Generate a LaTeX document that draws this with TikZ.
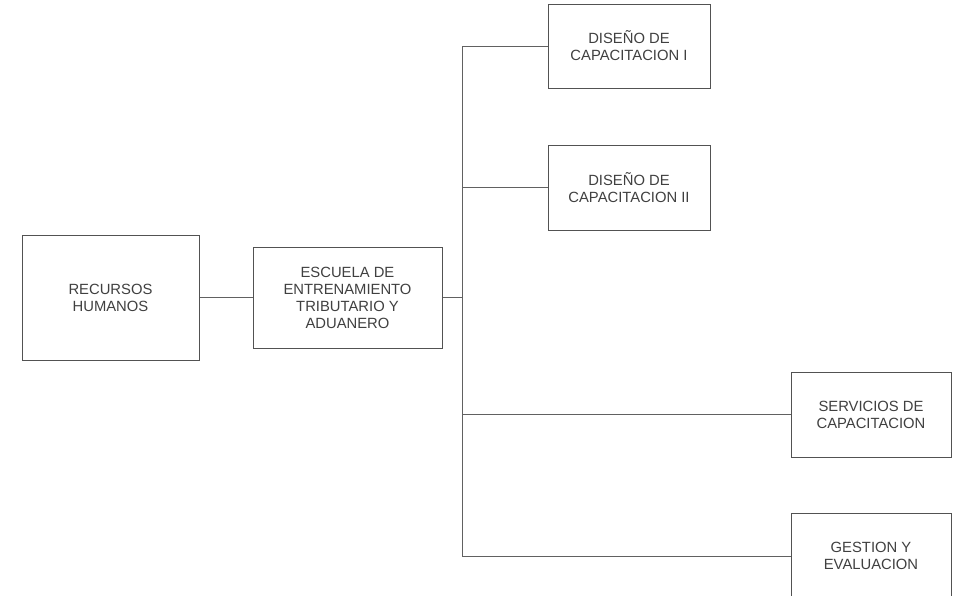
\documentclass[tikz,border=0pt]{standalone}
\usepackage{fontspec}
\setmainfont{Liberation Sans}
\begin{document}
\begin{tikzpicture}[x=1pt,y=-1pt,
  box/.style={draw=black!68,line width=1pt,rectangle,inner sep=0pt,align=center,
    text=black!75,font=\fontsize{14.8}{17}\selectfont},
  conn/.style={draw=black!62,line width=0.9pt}]
\useasboundingbox (0,0) rectangle (953,595);
\clip (0,0) rectangle (953,595);
\fill[white] (0,0) rectangle (953,595);
\node[box,minimum width=177pt,minimum height=125pt] (rh) at (110.5,297.5) {RECURSOS\\HUMANOS};
\node[box,minimum width=189pt,minimum height=101pt] (esc) at (347.5,297.5) {ESCUELA DE\\ENTRENAMIENTO\\TRIBUTARIO Y\\ADUANERO};
\node[box,minimum width=162pt,minimum height=84pt] (dc1) at (629,46) {DISEÑO DE\\CAPACITACION I};
\node[box,minimum width=162pt,minimum height=85pt] (dc2) at (629,187.5) {DISEÑO DE\\CAPACITACION II};
\node[box,minimum width=160pt,minimum height=85pt] (serv) at (871,414.5) {SERVICIOS DE\\CAPACITACION};
\node[box,minimum width=160pt,minimum height=86pt] (gest) at (871,556) {GESTION Y\\EVALUACION};
\coordinate (j) at (462,297.5);
\draw[conn] (rh.east) -- (esc.west);
\draw[conn] (esc.east) -- (j);
\draw[conn] (j |- dc1.west) -- (j |- gest.west);
\draw[conn] (j |- dc1.west) -- (dc1.west);
\draw[conn] (j |- dc2.west) -- (dc2.west);
\draw[conn] (j |- serv.west) -- (serv.west);
\draw[conn] (j |- gest.west) -- (gest.west);
\end{tikzpicture}
\end{document}
